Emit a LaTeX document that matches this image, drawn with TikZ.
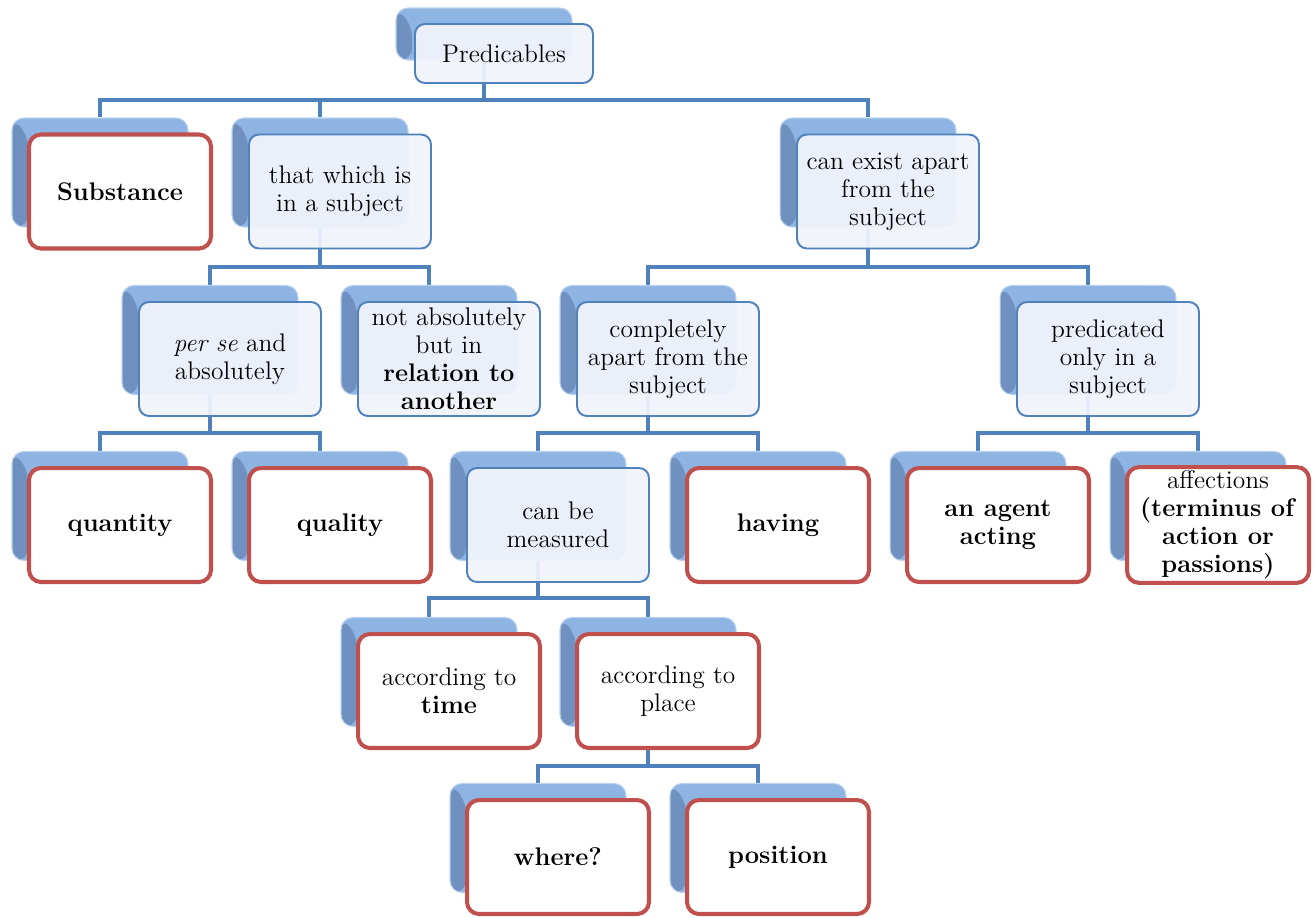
\documentclass[tikz,border=0pt]{standalone}
\usetikzlibrary{backgrounds}

\definecolor{linkblue}{HTML}{4F81BD}
\definecolor{leafred}{HTML}{C0504D}
\definecolor{backlight}{HTML}{8DB4E2}
\definecolor{backdark}{HTML}{7090C0}
\definecolor{innerfill}{HTML}{F0F3FB}

\tikzset{
    back/.style={rounded corners=0.24cm, fill=backlight, draw=backlight!60!white,
        line width=0.6pt, minimum width=3.52cm, minimum height=2.18cm,
        path picture={\fill[backdark] (path picture bounding box.north west)
            -- ++(0.32cm,-0.34cm) -- ([xshift=0.32cm]path picture bounding box.south west)
            -- (path picture bounding box.south west) -- cycle;}},
    inner/.style={rounded corners=0.2cm, draw=linkblue, line width=1.1pt,
        fill=innerfill, fill opacity=0.94, text opacity=1, align=center,
        minimum width=3.64cm, minimum height=2.28cm, inner sep=2pt,
        font=\fontsize{14.5}{16}\selectfont},
    leaf/.style={inner, draw=leafred, line width=2.3pt, fill=white, fill opacity=1,
        rounded corners=0.24cm},
    link/.style={draw=linkblue, line width=2.8pt},
}

\begin{document}
\begin{tikzpicture}[x=0.02cm, y=-0.02cm]
    \useasboundingbox (0,0) rectangle (1315,917);
    \coordinate (lv1) at (0,100);
    \coordinate (lv2) at (0,267);
    \coordinate (lv3) at (0,433);
    \coordinate (lv4) at (0,598);
    \coordinate (lv5) at (0,766);

    % top
    \node[back, minimum height=1.04cm] (pred-b) at (484,34) {};
    \node[inner, minimum height=1.18cm, minimum width=3.56cm] (pred) at (504,53.5) {Predicables};

    % second row
    \node[back] (subst-b) at (100,172.5) {};
    \node[leaf] (subst) at ([shift={(20,19)}]subst-b) {\textbf{Substance}};
    \node[back] (inside-b) at (320,172.5) {};
    \node[inner] (inside) at ([shift={(20,19)}]inside-b) {that which is\\in a subject};
    \node[back] (apart-b) at (868,172.5) {};
    \node[inner] (apart) at ([shift={(20,19)}]apart-b) {can exist apart\\from the\\subject};

    % third row
    \node[back] (perse-b) at (210,340) {};
    \node[inner] (perse) at ([shift={(20,19)}]perse-b) {\textit{per se} and\\absolutely};
    \node[back] (relto-b) at (429,340) {};
    \node[inner] (relto) at ([shift={(20,19)}]relto-b) {not absolutely\\but in\\\textbf{relation to}\\\textbf{another}};
    \node[back] (compl-b) at (648,340) {};
    \node[inner] (compl) at ([shift={(20,19)}]compl-b) {completely\\apart from the\\subject};
    \node[back] (onlyin-b) at (1088,340) {};
    \node[inner] (onlyin) at ([shift={(20,19)}]onlyin-b) {predicated\\only in a\\subject};

    % fourth row
    \node[back] (quant-b) at (100,506) {};
    \node[leaf] (quant) at ([shift={(20,19)}]quant-b) {\textbf{quantity}};
    \node[back] (qual-b) at (320,506) {};
    \node[leaf] (qual) at ([shift={(20,19)}]qual-b) {\textbf{quality}};
    \node[back] (meas-b) at (538,506) {};
    \node[inner] (meas) at ([shift={(20,19)}]meas-b) {can be\\measured};
    \node[back] (having-b) at (758,506) {};
    \node[leaf] (having) at ([shift={(20,19)}]having-b) {\textbf{having}};
    \node[back] (agent-b) at (978,506) {};
    \node[leaf] (agent) at ([shift={(20,19)}]agent-b) {\textbf{an agent}\\\textbf{acting}};
    \node[back] (affect-b) at (1198,506) {};
    \node[leaf] (affect) at ([shift={(20,19)}]affect-b) {affections\\\textbf{(terminus of}\\\textbf{action or}\\\textbf{passions)}};

    % fifth row
    \node[back] (time-b) at (429,672) {};
    \node[leaf] (time) at ([shift={(20,19)}]time-b) {according to\\\textbf{time}};
    \node[back] (place-b) at (648,672) {};
    \node[leaf] (place) at ([shift={(20,19)}]place-b) {according to\\place};

    % last row
    \node[back] (where-b) at (538,838) {};
    \node[leaf] (where) at ([shift={(20,19)}]where-b) {\textbf{where?}};
    \node[back] (posit-b) at (758,838) {};
    \node[leaf] (posit) at ([shift={(20,19)}]posit-b) {\textbf{position}};

    % connectors behind the boxes
    \begin{pgfonlayer}{background}
        \draw[link] (pred-b.center) -- (pred-b |- lv1);
        \draw[link] (subst-b.north) |- (lv1 -| apart-b) -- (apart-b.north);
        \draw[link] (inside-b.north) -- (inside-b |- lv1);

        \draw[link] (inside-b.center) -- (inside-b |- lv2);
        \draw[link] (perse-b.north) |- (lv2 -| relto-b) -- (relto-b.north);
        \draw[link] (apart-b.center) -- (apart-b |- lv2);
        \draw[link] (compl-b.north) |- (lv2 -| onlyin-b) -- (onlyin-b.north);

        \draw[link] (perse-b.center) -- (perse-b |- lv3);
        \draw[link] (quant-b.north) |- (lv3 -| qual-b) -- (qual-b.north);
        \draw[link] (compl-b.center) -- (compl-b |- lv3);
        \draw[link] (meas-b.north) |- (lv3 -| having-b) -- (having-b.north);
        \draw[link] (onlyin-b.center) -- (onlyin-b |- lv3);
        \draw[link] (agent-b.north) |- (lv3 -| affect-b) -- (affect-b.north);

        \draw[link] (meas-b.center) -- (meas-b |- lv4);
        \draw[link] (time-b.north) |- (lv4 -| place-b) -- (place-b.north);

        \draw[link] (place-b.center) -- (place-b |- lv5);
        \draw[link] (where-b.north) |- (lv5 -| posit-b) -- (posit-b.north);
    \end{pgfonlayer}
\end{tikzpicture}
\end{document}
